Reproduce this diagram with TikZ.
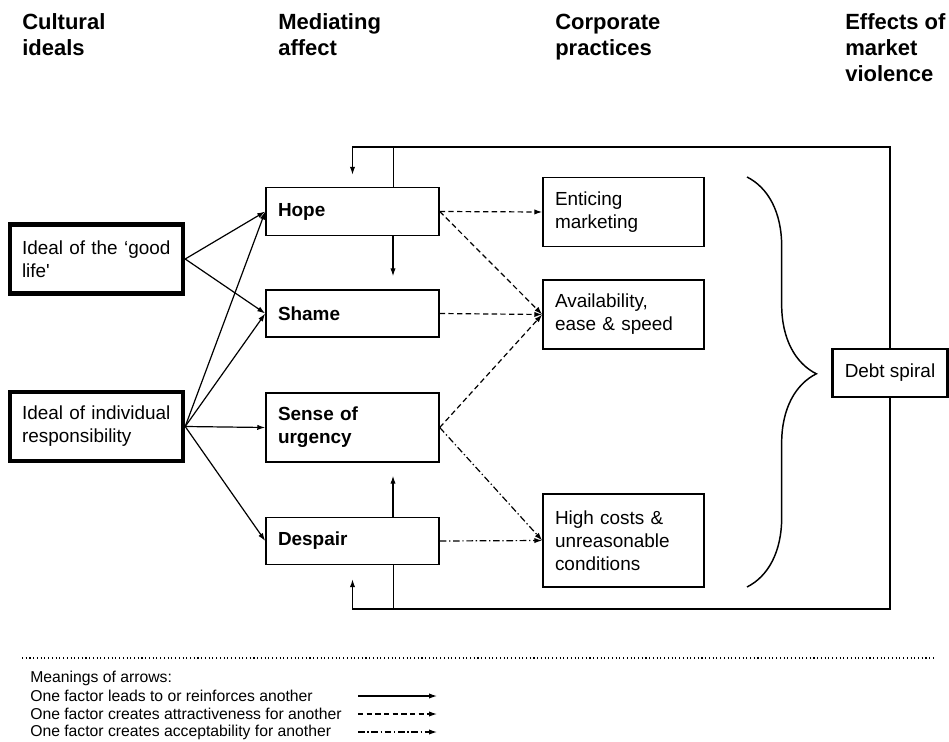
\documentclass[tikz,border=0pt]{standalone}
\usepackage{fontspec}
\setmainfont{Liberation Sans}
\usetikzlibrary{arrows.meta}
\usetikzlibrary{calc}
\usetikzlibrary{decorations.pathreplacing}
\newcommand{\boxfont}{\fontsize{14.2}{17.3}\selectfont}
\newcommand{\headfont}{\fontsize{16.5}{19.5}\selectfont\bfseries}
\newcommand{\keyfont}{\fontsize{11.8}{13.5}\selectfont}
\tikzset{box/.style = {draw, line width=1.1pt, inner xsep=9pt, inner ysep=0pt, align=left, font=\boxfont}}
\tikzset{ideal/.style = {box, line width=3.3pt, text width=111.75pt, minimum height=52pt}}
\tikzset{affect/.style = {box, text width=111.75pt, minimum height=#1, font=\boxfont\bfseries}}
\tikzset{practice/.style = {box, text width=102.75pt, minimum height=#1}}
\tikzset{head/.style = {anchor=north west, inner sep=0pt, align=left, font=\headfont}}
\tikzset{key/.style = {anchor=west, inner sep=0pt, font=\keyfont}}
\tikzset{lead/.style = {-{Latex[length=6pt,width=4pt]}, line width=0.9pt}}
\tikzset{attract/.style = {lead, dash pattern=on 4pt off 2.5pt}}
\tikzset{accept/.style = {lead, dash pattern=on 5pt off 2pt on 1pt off 2pt}}

\begin{document}
\begin{tikzpicture}[x=0.75pt, y=-0.75pt]
        \useasboundingbox (0,0) rectangle (949,742);
        % column heads
        \node[head] (h1) at (22,11) {\strut Cultural\\ideals};
        \node[head] (h2) at (278,11) {\strut Mediating\\affect};
        \node[head] (h3) at (555,11) {\strut Corporate\\practices};
        \node[head] (h4) at (845,11) {\strut Effects of\\market\\violence};
        % boxes
        \node[ideal] (good) at (96.5,259) {Ideal of the ‘good\\life\textquotesingle};
        \node[ideal] (resp) at (96.5,426.5) {Ideal of individual\\responsibility};
        \node[affect=36pt] (hope) at (352.5,211.5) {Hope};
        \node[affect=35.25pt] (shame) at (352.5,313.5) {Shame};
        \node[affect=51.75pt] (urgency) at (352.5,427.5) {Sense of\\urgency};
        \node[affect=35.25pt] (despair) at (352.5,541) {Despair};
        \node[practice=52pt] (entice) at (623.5,212) {Enticing\\marketing};
        \node[practice=52pt] (avail) at (623.5,314.5) {Availability,\\ease \& speed};
        \node[practice=69.75pt] (costs) at (623.5,540.5) {High costs \&\\unreasonable\\conditions};
        \draw[decorate, decoration={brace, amplitude=52pt, aspect=0.48}, line width=1.1pt] (747,177) -- (747,587);
        % feedback loop
        \coordinate (loopT) at (890,147);
        \coordinate (loopB) at (890,609);
        \node[box, line width=1.8pt, align=center, minimum width=86.25pt, minimum height=36pt] (debt) at (890,373) {Debt spiral};
        \draw[lead] (debt.north) -- (loopT) -| ($(hope.north)+(0,-12)$);
        \draw ($(hope.north)+(40.5,0)$) -- (loopT -| {$(hope.north)+(40.5,0)$});
        \draw[lead] (debt.south) -- (loopB) -| ($(despair.south)+(0,14)$);
        \draw ($(despair.south)+(40.5,0)$) -- (loopB -| {$(despair.south)+(40.5,0)$});
        \draw[lead] ($(hope.south)+(40.5,0)$) -- ($(shame.north)+(40.5,-13)$);
        \draw[lead] ($(despair.north)+(40.5,0)$) -- ($(urgency.south)+(40.5,13)$);
        % ideals to affect
        \draw[lead] (good.east) -- (hope.west);
        \draw[lead] (good.east) -- (shame.west);
        \draw[lead] (resp.east) -- (hope.west);
        \draw[lead] (resp.east) -- (shame.west);
        \draw[lead] (resp.east) -- (urgency.west);
        \draw[lead] (resp.east) -- (despair.west);
        % affect to practices
        \draw[attract] (hope.east) -- (entice.west);
        \draw[attract] (hope.east) -- (avail.west);
        \draw[attract] (shame.east) -- (avail.west);
        \draw[attract] (urgency.east) -- (avail.west);
        \draw[accept] (urgency.east) -- (costs.west);
        \draw[accept] (despair.east) -- (costs.west);
        % legend
        \draw[dotted, line width=0.8pt] (22,658) -- (935,658);
        \node[key] (k0) at (30,678) {Meanings of arrows:};
        \node[key] (k1) at (30,696) {One factor leads to or reinforces another};
        \node[key] (k2) at (30,714) {One factor creates attractiveness for another};
        \node[key] (k3) at (30,732) {One factor creates acceptability for another};
        \coordinate (a1) at (358,696);
        \coordinate (a2) at (358,714);
        \coordinate (a3) at (358,732);
        \draw[lead] (a1) -- ++(79,0);
        \draw[attract] (a2) -- ++(79,0);
        \draw[accept] (a3) -- ++(79,0);
    \end{tikzpicture}
\end{document}
